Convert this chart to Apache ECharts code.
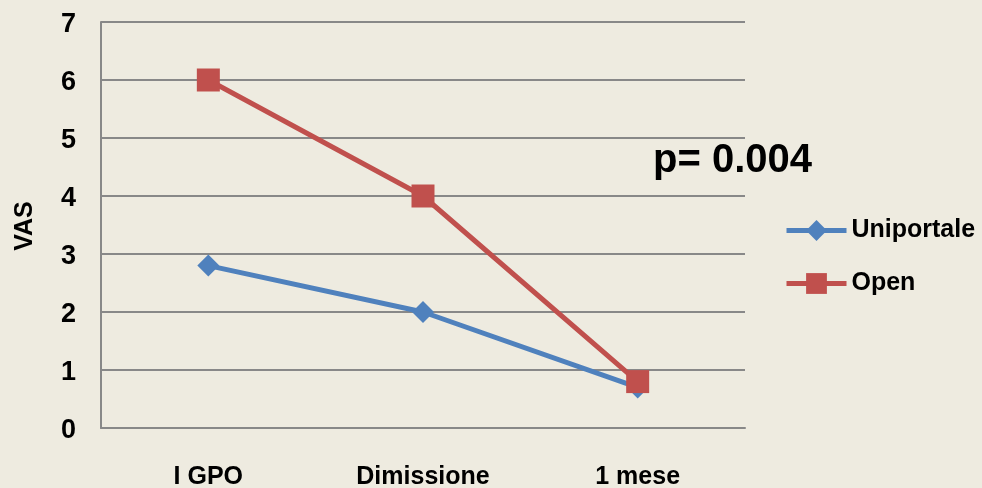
<!DOCTYPE html>
<html>
<head>
<meta charset="utf-8">
<style>
  html, body { margin: 0; padding: 0; background: #EEEBE0; }
  #chart { width: 982px; height: 488px; }
</style>
<script src="https://cdn.jsdelivr.net/npm/echarts@6/dist/echarts.min.js"></script>
</head>
<body>
<div id="chart"></div>
<script>
// Time points and VAS pain scores per group
const categories = ['I GPO', 'Dimissione', '1 mese'];
const uniportale = [2.8, 2.0, 0.7];
const open = [6.0, 4.0, 0.8];
const yTicks = [0, 1, 2, 3, 4, 5, 6, 7];
const annotation = 'p= 0.004';

const labelFont = '"Liberation Sans", Arial, sans-serif';

const chart = echarts.init(document.getElementById('chart'), null, { renderer: 'canvas' });
chart.setOption({
  backgroundColor: '#EEEBE0',
  animation: false,
  grid: { left: 101, right: 237, top: 22, bottom: 60, containLabel: false, outerBoundsMode: 'none' },
  xAxis: {
    type: 'category',
    data: categories,
    boundaryGap: true,
    axisLine: { lineStyle: { color: '#888888', width: 2 } },
    axisTick: { show: false },
    axisLabel: { color: '#000', fontFamily: labelFont, fontWeight: 'bold', fontSize: 25, margin: 37 }
  },
  yAxis: {
    type: 'value',
    min: yTicks[0],
    max: yTicks[yTicks.length - 1],
    interval: 1,
    axisLine: { show: true, lineStyle: { color: '#888888', width: 2 } },
    axisTick: { show: false },
    splitLine: { lineStyle: { color: '#888888', width: 2 } },
    axisLabel: {
      margin: 25,
      formatter: v => '{t|' + v + '}',
      rich: { t: { color: '#000', fontFamily: labelFont, fontWeight: 'bold', fontSize: 27, padding: [6, 0, 0, 0] } }
    }
  },
  legend: {
    orient: 'vertical',
    left: 779,
    top: 213,
    itemGap: 28,
    itemWidth: 60,
    itemHeight: 26,
    lineStyle: { width: 5 },
    textStyle: { color: '#000', fontFamily: labelFont, fontWeight: 'bold', fontSize: 25 },
    data: ['Uniportale', 'Open']
  },
  series: [
    {
      name: 'Uniportale',
      type: 'line',
      data: uniportale,
      color: '#4F81BD',
      lineStyle: { width: 5, color: '#4F81BD' },
      symbol: 'diamond',
      symbolSize: 22,
      itemStyle: { color: '#4F81BD' },
      z: 2
    },
    {
      name: 'Open',
      type: 'line',
      data: open,
      color: '#C0504D',
      lineStyle: { width: 5, color: '#C0504D' },
      symbol: 'rect',
      symbolSize: 23,
      itemStyle: { color: '#C0504D' },
      z: 3
    }
  ],
  graphic: [
    {
      type: 'text',
      left: 653,
      top: 141,
      style: { text: annotation, font: 'bold 40px ' + labelFont, fill: '#000' }
    },
    {
      type: 'text',
      x: 25,
      y: 226,
      rotation: Math.PI / 2,
      style: { text: 'VAS', font: 'bold 25px ' + labelFont, fill: '#000', align: 'center', verticalAlign: 'middle' }
    }
  ]
});
</script>
</body>
</html>
